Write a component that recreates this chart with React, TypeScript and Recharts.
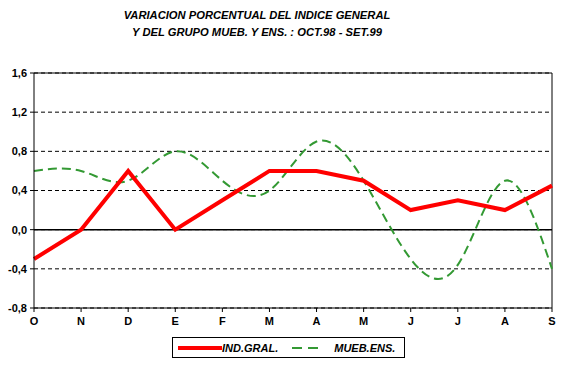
import { LineChart, Line, XAxis, YAxis, CartesianGrid, ReferenceLine, Legend } from 'recharts';

// meses oct.98 - set.99
const months = ['O', 'N', 'D', 'E', 'F', 'M', 'A', 'M', 'J', 'J', 'A', 'S'];
const indGral = [-0.3, 0.0, 0.6, 0.0, 0.3, 0.6, 0.6, 0.5, 0.2, 0.3, 0.2, 0.45];
const muebEns = [0.6, 0.6, 0.5, 0.8, 0.5, 0.4, 0.9, 0.5, -0.3, -0.36, 0.5, -0.4];
const yTicks = [-0.8, -0.4, 0, 0.4, 0.8, 1.2, 1.6];

const data = months.map((m, i) => ({ idx: i, label: m, ind: indGral[i], mueb: muebEns[i] }));

const FONT = '"Liberation Sans", Arial, sans-serif';
const RED = '#ff0000';
const GREEN = '#339933';

const renderLegend = () => (
  <div
    style={{
      boxSizing: 'border-box',
      width: 233,
      height: 21,
      border: '1px solid #000',
      background: '#fff',
      display: 'flex',
      alignItems: 'center',
      fontFamily: FONT,
      fontSize: 11,
      fontWeight: 'bold',
      fontStyle: 'italic',
    }}
  >
    <svg width={50} height={10} style={{ marginLeft: 5 }}>
      <line x1={0} y1={5} x2={44} y2={5} stroke={RED} strokeWidth={4} />
    </svg>
    <span style={{ marginLeft: -6 }}>IND.GRAL.</span>
    <svg width={40} height={10} style={{ marginLeft: 12 }}>
      <line x1={2} y1={5} x2={28} y2={5} stroke={GREEN} strokeWidth={2} strokeDasharray="10 6" />
    </svg>
    <span style={{ marginLeft: 4 }}>MUEB.ENS.</span>
  </div>
);

export default function App() {
  return (
    <div style={{ position: 'absolute', left: 0, top: 0, width: 564, height: 365, background: '#fff' }}>
      <div
        style={{
          position: 'absolute',
          left: 0,
          top: 7,
          width: 514,
          textAlign: 'center',
          fontFamily: FONT,
          fontSize: 11.2,
          fontWeight: 'bold',
          fontStyle: 'italic',
          lineHeight: '17px',
          zIndex: 2,
        }}
      >
        <div>VARIACION PORCENTUAL DEL INDICE GENERAL</div>
        <div>Y DEL GRUPO MUEB. Y ENS. : OCT.98 - SET.99</div>
      </div>
      <LineChart width={564} height={365} data={data} margin={{ top: 73, right: 12, left: 0, bottom: 7 }}>
        <CartesianGrid horizontal vertical={false} stroke="#000" strokeDasharray="4 3" />
        <XAxis
          dataKey="idx"
          type="category"
          height={29}
          tickFormatter={(v) => months[v]}
          stroke="#000"
          tickSize={4}
          tickMargin={5}
          tick={{ fill: '#000', fontSize: 11, fontWeight: 'bold', fontFamily: FONT }}
          interval={0}
        />
        <YAxis
          width={34}
          domain={[-0.8, 1.6]}
          ticks={yTicks}
          stroke="#000"
          tickSize={4}
          tickMargin={3}
          tickFormatter={(v) => v.toFixed(1).replace('.', ',')}
          tick={{ fill: '#000', fontSize: 11, fontWeight: 'bold', fontFamily: FONT }}
          allowDecimals
        />
        <ReferenceLine y={0} stroke="#000" strokeWidth={1.5} />
        <ReferenceLine y={1.6} stroke="#000" />
        <ReferenceLine x={11} stroke="#000" />
        <Line
          type="natural"
          dataKey="mueb"
          stroke={GREEN}
          strokeWidth={2}
          strokeDasharray="9 5"
          dot={false}
          isAnimationActive={false}
        />
        <Line type="linear" dataKey="ind" stroke={RED} strokeWidth={4} dot={false} isAnimationActive={false} />
        <Legend
          verticalAlign="bottom"
          height={21}
          content={renderLegend}
          wrapperStyle={{ left: 172, width: 233, bottom: 7 }}
        />
      </LineChart>
    </div>
  );
}
